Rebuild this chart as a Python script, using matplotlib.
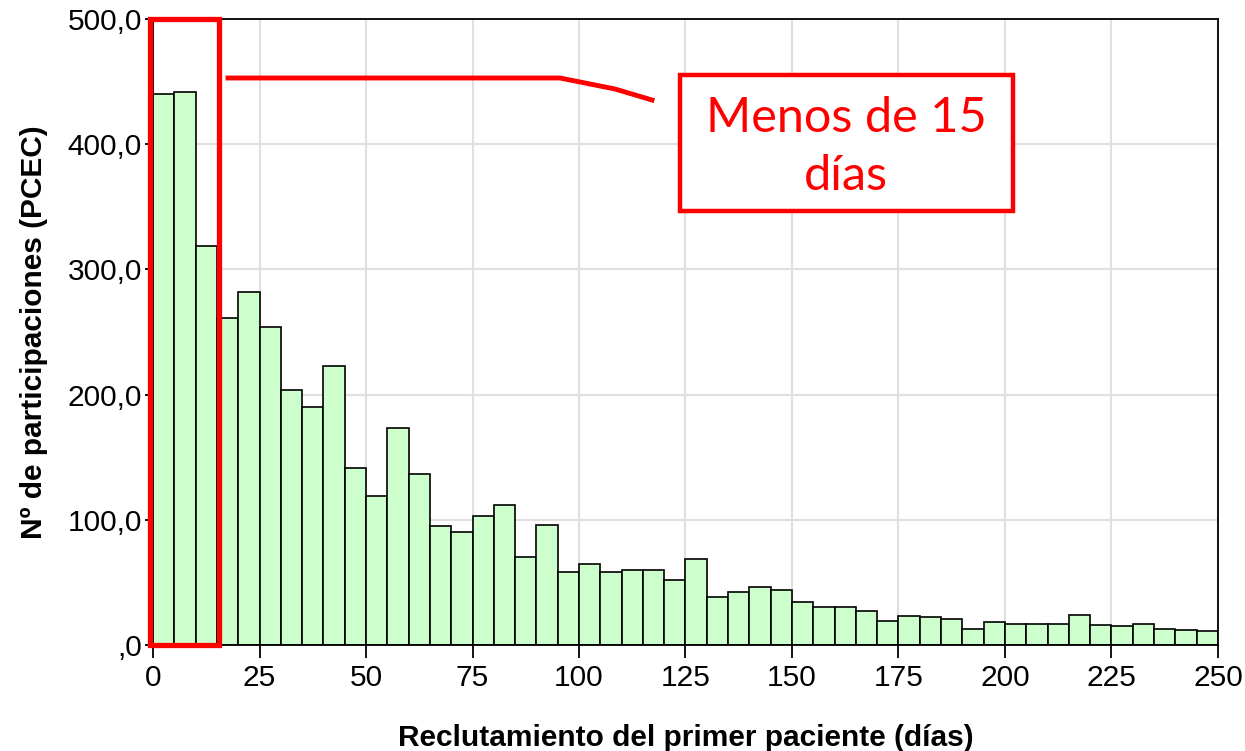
import matplotlib
matplotlib.use('Agg')
import matplotlib.pyplot as plt
from matplotlib.patches import Rectangle
from matplotlib.lines import Line2D
from matplotlib.ticker import FuncFormatter
import numpy as np

plt.rcParams['font.family'] = ['Liberation Sans', 'DejaVu Sans']

# intervalos de 5 días, de 0 a 250
bin_edges = list(range(0, 255, 5))
counts = [440, 442, 319, 261, 282, 254, 204, 190, 223, 141,
          119, 173, 137, 95, 90, 103, 112, 70, 96, 58,
          65, 58, 60, 60, 52, 69, 38, 42, 46, 44,
          34, 30, 30, 27, 19, 23, 22, 21, 13, 18,
          17, 17, 17, 24, 16, 15, 17, 13, 12, 11]

x_ticks = list(range(0, 275, 25))
y_ticks = [0, 100, 200, 300, 400, 500]
xlabel = 'Reclutamiento del primer paciente (días)'
ylabel = 'Nº de participaciones (PCEC)'
note = 'Menos de 15\ndías'

fig = plt.figure(figsize=(12.45, 7.51), dpi=100)
ax = fig.add_axes([0.1229, 0.1411, 0.8554, 0.8336])

lefts = np.array(bin_edges[:-1])
widths = np.diff(bin_edges)
ax.bar(lefts, counts, width=widths, align='edge', color='#ccffcc',
       edgecolor='black', linewidth=1.2, zorder=3)

ax.set_xlim(0, 250)
ax.set_ylim(0, 500)
ax.set_xticks(x_ticks)
ax.set_yticks(y_ticks)


def fmt_y(v, pos):
    s = ('%.1f' % v).replace('.', ',')
    if s.startswith('0,'):
        s = s[1:]
    return s


ax.yaxis.set_major_formatter(FuncFormatter(fmt_y))
ax.grid(True, color='#e0e0e0', linewidth=1.5, zorder=0)
ax.set_axisbelow(True)
for sp in ax.spines.values():
    sp.set_color('black')
    sp.set_linewidth(1.3)
    sp.set_zorder(4)

ax.tick_params(axis='both', labelsize=21.5, color='black', width=1.3)
ax.tick_params(axis='x', length=9, pad=5)
ax.tick_params(axis='y', length=6, pad=2)

ax.set_xlabel(xlabel, fontsize=21.5, fontweight='bold')
ax.set_ylabel(ylabel, fontsize=21.5, fontweight='bold')
ax.xaxis.set_label_coords(0.5, -0.1480)
ax.xaxis.label.set_va('center')
ax.yaxis.set_label_coords(-0.1117, 0.5)
ax.yaxis.label.set_va('center')

# recuadro de los primeros 15 días
ax.add_patch(Rectangle((-0.6, 0), 16.0, 500, fill=False, edgecolor='#ff0000',
                       linewidth=3.8, clip_on=False, zorder=6))

# llamada y cuadro de texto
fig.add_artist(Line2D([228 / 1245, 560 / 1245, 615 / 1245, 652 / 1245],
                      [1 - 78 / 751, 1 - 78 / 751, 1 - 89 / 751, 1 - 100 / 751],
                      color='#ff0000', linewidth=3.5, transform=fig.transFigure))
fig.add_artist(Rectangle((680 / 1245, 1 - 211 / 751), 333 / 1245, 136 / 751,
                         fill=True, facecolor='white', edgecolor='#ff0000',
                         linewidth=3.2, transform=fig.transFigure, zorder=7))
fig.text(846 / 1245, 1 - 147 / 751, note, color='#ff0000', fontsize=35,
         family=['Lato', 'DejaVu Sans'], ha='center', va='center',
         linespacing=1.38, zorder=8)

fig.savefig('out.png', dpi=100)
